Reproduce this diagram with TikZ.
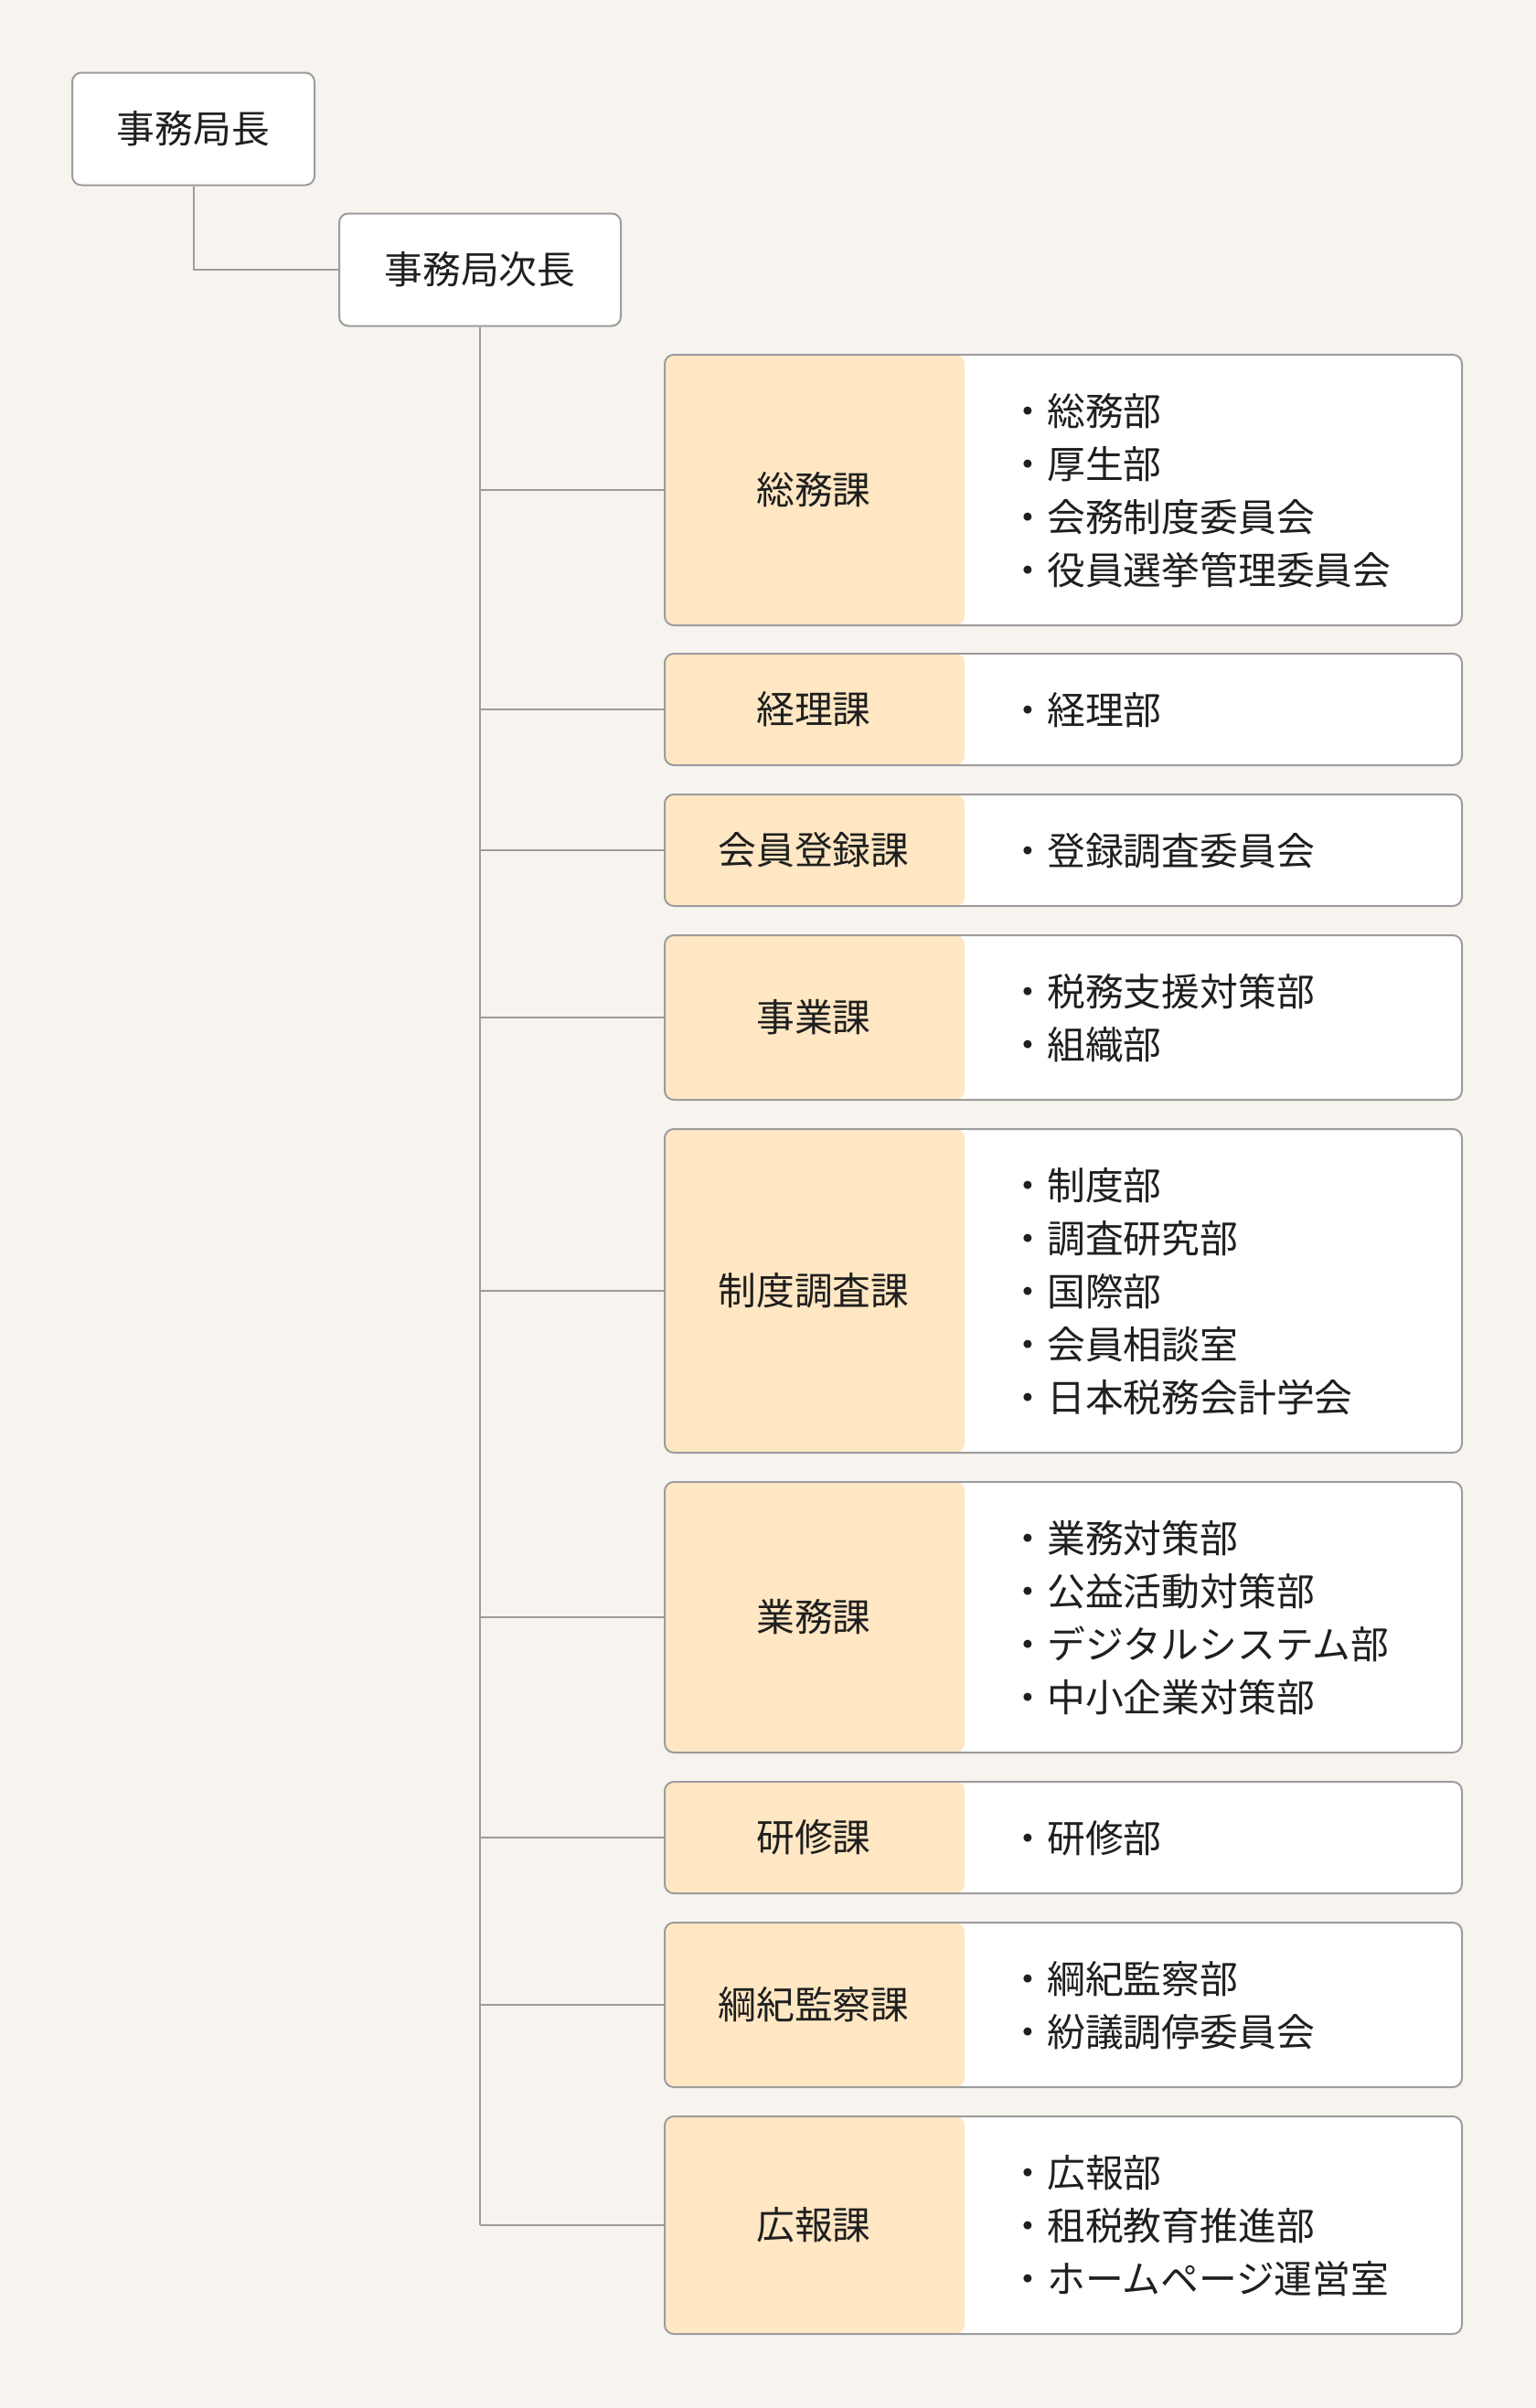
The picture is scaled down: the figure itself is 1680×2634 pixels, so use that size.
\documentclass[tikz,border=0pt]{standalone}
\usepackage{fontspec}
\setmainfont{Noto Sans CJK JP}
\usetikzlibrary{positioning}
\definecolor{ChartBg}{HTML}{F7F4F0}
\definecolor{ChartLine}{HTML}{9C9C9C}
\definecolor{ChartPeach}{HTML}{FFE7C3}
\definecolor{ChartInk}{HTML}{1F1F1F}
\tikzset{
  headbox/.style={draw=ChartLine, line width=1pt, fill=white, rounded corners=5pt,
    minimum height=61.5pt, inner sep=0pt, text=ChartInk},
  deptbox/.style={draw=ChartLine, line width=1pt, fill=white, rounded corners=5pt,
    minimum width=436pt, inner sep=0pt,
    path picture={\fill[ChartPeach] (path picture bounding box.south west)
      rectangle ([xshift=164pt]path picture bounding box.north west);}},
  deptname/.style={text=ChartInk, inner sep=0pt},
  deptlist/.style={text=ChartInk, inner sep=0pt, align=left, anchor=west},
  link/.style={draw=ChartLine, line width=1pt},
}

\begin{document}
\begin{tikzpicture}[x=0.5pt, y=-0.5pt, font=\fontsize{20.9pt}{29pt}\selectfont]
  \useasboundingbox (0,0) rectangle (1680,2634);
  \fill[ChartBg] (0,0) rectangle (1680,2634);
  % top of the chart
  \node[headbox, minimum width=132.5pt] (chief) at (211.5,141) {事務局長};
  \node[headbox, minimum width=154pt] (vice) at (525,295) {事務局次長};
  \draw[link] (chief.south) |- (vice.west);
  % sections, each with its list of departments
  \foreach \i/\cy/\n/\name/\items in {
    1/536/4/総務課/{・総務部\\・厚生部\\・会務制度委員会\\・役員選挙管理委員会},
    2/776/1/経理課/{・経理部},
    3/930/1/会員登録課/{・登録調査委員会},
    4/1113/2/事業課/{・税務支援対策部\\・組織部},
    5/1412/5/制度調査課/{・制度部\\・調査研究部\\・国際部\\・会員相談室\\・日本税務会計学会},
    6/1769/4/業務課/{・業務対策部\\・公益活動対策部\\・デジタルシステム部\\・中小企業対策部},
    7/2010/1/研修課/{・研修部},
    8/2193/2/綱紀監察課/{・綱紀監察部\\・紛議調停委員会},
    9/2434/3/広報課/{・広報部\\・租税教育推進部\\・ホームページ運営室}}{%
    \node[deptbox, minimum height={(32+29*\n)*1pt}] (d\i) at (1163,\cy) {};
    \node[deptname] (n\i) at ([xshift=82pt]d\i.west) {\name};
    \node[deptlist] (l\i) at ([xshift=188.5pt, yshift=-0.5pt]d\i.west) {\items};
    \draw[link] (vice.south |- d\i.west) -- (d\i.west);}
  % trunk down from the deputy
  \draw[link] (vice.south) -- (vice.south |- d9.west);
\end{tikzpicture}
\end{document}
